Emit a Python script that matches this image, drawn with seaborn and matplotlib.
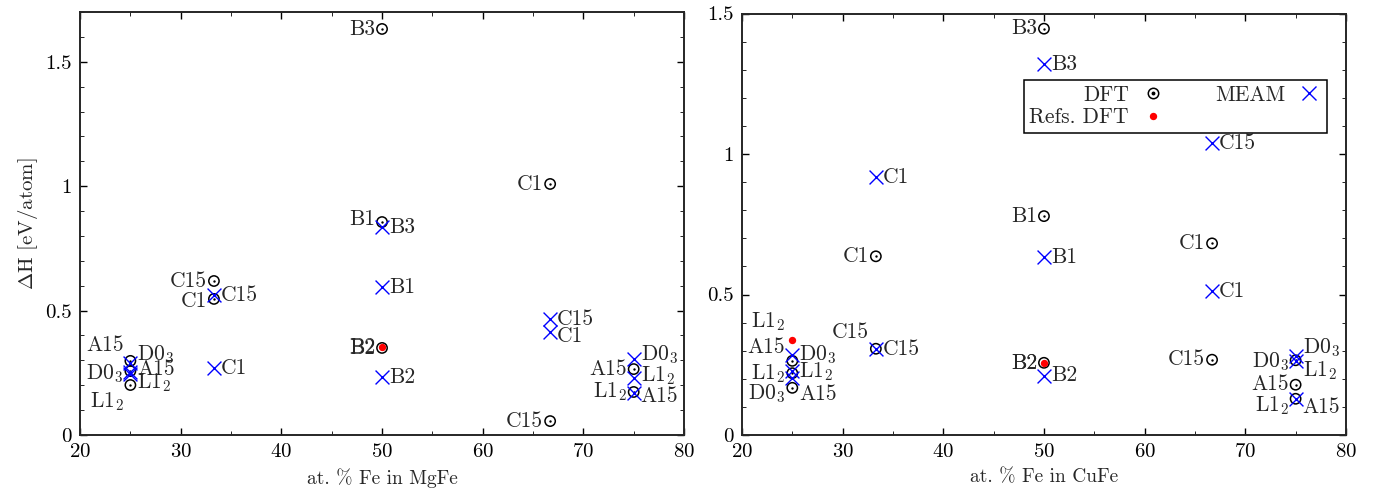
import numpy as np
import pandas as pd
import matplotlib
matplotlib.use('Agg')
import matplotlib.pyplot as plt
import seaborn as sns
from matplotlib.lines import Line2D
from matplotlib.ticker import MultipleLocator, FormatStrFormatter

# --- data: MgFe (left panel) ---
mg_dft_names = ['B3', 'C1', 'B1', 'C15', 'C1', 'B2', 'A15', 'D0$_3$', 'L1$_2$', 'A15', 'L1$_2$', 'C15']
mg_dft_x = [50, 66.7, 50, 33.3, 33.3, 50, 25, 25, 25, 75, 75, 66.7]
mg_dft_y = [1.632, 1.009, 0.856, 0.619, 0.547, 0.350, 0.298, 0.257, 0.201, 0.265, 0.173, 0.056]
mg_meam_names = ['B3', 'B1', 'C15', 'C1', 'B2', 'C15', 'C1', 'D0$_3$', 'L1$_2$', 'A15', 'D0$_3$', 'A15', 'L1$_2$']
mg_meam_x = [50, 50, 33.3, 33.3, 50, 66.7, 66.7, 75, 75, 75, 25, 25, 25]
mg_meam_y = [0.836, 0.595, 0.563, 0.269, 0.233, 0.466, 0.414, 0.306, 0.229, 0.169, 0.290, 0.255, 0.245]
mg_ref_names = ['B2']
mg_ref_x = [50]
mg_ref_y = [0.354]

# --- data: CuFe (right panel) ---
cu_dft_names = ['B3', 'B1', 'C1', 'C1', 'C15', 'B2', 'C15', 'A15', 'L1$_2$', 'D0$_3$', 'A15', 'L1$_2$', 'D0$_3$']
cu_dft_x = [50, 50, 66.7, 33.3, 33.3, 50, 66.7, 75, 75, 75, 25, 25, 25]
cu_dft_y = [1.446, 0.779, 0.682, 0.636, 0.307, 0.257, 0.268, 0.179, 0.129, 0.266, 0.264, 0.220, 0.168]
cu_meam_names = ['B3', 'C15', 'C1', 'B1', 'C1', 'B2', 'C15', 'D0$_3$', 'L1$_2$', 'A15', 'D0$_3$', 'L1$_2$', 'A15']
cu_meam_x = [50, 66.7, 33.3, 50, 66.7, 50, 33.3, 25, 25, 25, 75, 75, 75]
cu_meam_y = [1.321, 1.039, 0.918, 0.632, 0.511, 0.211, 0.307, 0.286, 0.229, 0.204, 0.282, 0.264, 0.129]
cu_ref_names = ['L1$_2$', 'B2']
cu_ref_x = [25, 50]
cu_ref_y = [0.339, 0.257]

# label vertical nudges (points), to keep overlapping labels apart
mg_dft_dy = [0, 0, 2, 0, -2, 0, 11, -2, -12, 0, 0, 0]
mg_meam_dy = [0, 0, 0, 0, 0, 0, -3, 3, 2, -2, 6, 2, -6]
mg_ref_dy = [0]
cu_dft_dy = [0, 0, 0, 0, 12, 0, 0, 0, -5, -1, 10, 0, -4]
cu_meam_dy = [0, 0, 0, 0, 0, 0, 0, 0, -1, -12, 6, -7, -6]
cu_ref_dy = [13, 0]

sns.set_style('ticks')
plt.rcParams.update({
    'font.family': 'serif',
    'font.serif': ['cmr10', 'DejaVu Serif'],
    'mathtext.fontset': 'cm',
    'axes.formatter.use_mathtext': True,
    'font.size': 15,
    'axes.linewidth': 1.4,
    'xtick.direction': 'in', 'ytick.direction': 'in',
    'xtick.top': True, 'ytick.right': True,
    'xtick.major.size': 5, 'ytick.major.size': 5,
    'xtick.minor.size': 3, 'ytick.minor.size': 3,
    'xtick.minor.visible': True, 'ytick.minor.visible': True,
    'xtick.color': 'black', 'ytick.color': 'black',
})

LABEL_FS = 15.5


def label_points(ax, names, xs, ys, dys, side):
    for n, x, y, dy in zip(names, xs, ys, dys):
        if side == 'left':
            ax.annotate(n, (x, y), xytext=(-5, dy), textcoords='offset points',
                        ha='right', va='center', fontsize=LABEL_FS)
        else:
            ax.annotate(n, (x, y), xytext=(5, dy), textcoords='offset points',
                        ha='left', va='center', fontsize=LABEL_FS)


def draw_panel(ax, dft, meam, ref, ymax, xlabel):
    dft_df = pd.DataFrame({'x': dft[1], 'y': dft[2]})
    meam_df = pd.DataFrame({'x': meam[1], 'y': meam[2]})
    ref_df = pd.DataFrame({'x': ref[1], 'y': ref[2]})
    sns.scatterplot(data=dft_df, x='x', y='y', ax=ax, marker='o', s=55,
                    facecolor='none', edgecolor='black', linewidth=1.1, zorder=3)
    sns.scatterplot(data=dft_df, x='x', y='y', ax=ax, marker='o', s=3,
                    color='black', linewidth=0, zorder=3)
    sns.scatterplot(data=meam_df, x='x', y='y', ax=ax, marker='x', s=100,
                    color='blue', linewidth=1.0, zorder=4)
    sns.scatterplot(data=ref_df, x='x', y='y', ax=ax, marker='o', s=28,
                    color='red', linewidth=0, zorder=5)
    label_points(ax, dft[0], dft[1], dft[2], dft[3], 'left')
    label_points(ax, meam[0], meam[1], meam[2], meam[3], 'right')
    label_points(ax, ref[0], ref[1], ref[2], ref[3], 'left')
    ax.set_xlim(20, 80)
    ax.set_ylim(0, ymax)
    ax.xaxis.set_major_locator(MultipleLocator(10))
    ax.xaxis.set_minor_locator(MultipleLocator(5))
    ax.yaxis.set_major_locator(MultipleLocator(0.5))
    ax.yaxis.set_minor_locator(MultipleLocator(0.1))
    ax.yaxis.set_major_formatter(FormatStrFormatter('%g'))
    ax.set_xlabel(xlabel, fontsize=14, labelpad=5)
    ax.set_ylabel('')
    ax.tick_params(labelsize=15, width=1.0, pad=6)
    for sp in ax.spines.values():
        sp.set_visible(True)


fig = plt.figure(figsize=(13.9, 4.93), dpi=100)
ax1 = fig.add_axes([0.0576, 0.1176, 0.4345, 0.858])
ax2 = fig.add_axes([0.5338, 0.1176, 0.4345, 0.855])

draw_panel(ax1, (mg_dft_names, mg_dft_x, mg_dft_y, mg_dft_dy),
           (mg_meam_names, mg_meam_x, mg_meam_y, mg_meam_dy),
           (mg_ref_names, mg_ref_x, mg_ref_y, mg_ref_dy), 1.7, 'at. % Fe in MgFe')
ax1.set_ylabel(r'$\Delta$H [eV/atom]', fontsize=15)

draw_panel(ax2, (cu_dft_names, cu_dft_x, cu_dft_y, cu_dft_dy),
           (cu_meam_names, cu_meam_x, cu_meam_y, cu_meam_dy),
           (cu_ref_names, cu_ref_x, cu_ref_y, cu_ref_dy), 1.5, 'at. % Fe in CuFe')

h_circ = Line2D([], [], ls='none', marker='o', ms=7.5, mfc='none', mec='black', mew=1.1)
h_dot = Line2D([], [], ls='none', marker='o', ms=1.8, color='black')
h_meam = Line2D([], [], ls='none', marker='x', ms=10, color='blue', mew=1.0)
h_ref = Line2D([], [], ls='none', marker='o', ms=5.3, color='red', mew=0)
leg = ax2.legend([(h_circ, h_dot), h_ref, h_meam], ['DFT', 'Refs. DFT', 'MEAM'],
                 ncol=2, markerfirst=False, loc='upper right',
                 bbox_to_anchor=(0.969, 0.843), fancybox=False, framealpha=1,
                 edgecolor='black', fontsize=15.5, columnspacing=2.3,
                 handlelength=1.2, handletextpad=0.5, labelspacing=0.15,
                 borderpad=0.25, borderaxespad=0)
leg.get_frame().set_linewidth(1.1)

fig.savefig('out.png', dpi=100)
